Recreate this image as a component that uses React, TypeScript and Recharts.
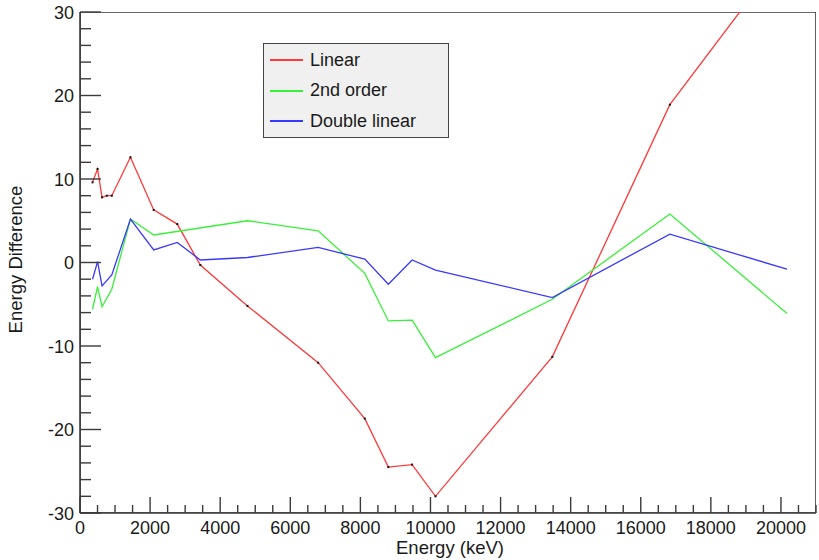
import React from 'react';
import { LineChart, Line, XAxis, YAxis, Legend, ReferenceArea } from 'recharts';

// Energies (keV) and energy differences
const redEnergy = [358, 501, 629, 765, 907, 1439, 2103, 2775, 3433, 4778, 6795, 8126, 8798, 9476, 10143, 13476, 16830, 20172];
const redDiff = [9.6, 11.2, 7.8, 8.0, 8.0, 12.6, 6.3, 4.6, -0.3, -5.2, -12.0, -18.7, -24.5, -24.2, -28.0, -11.3, 18.9, 37.5];

const greenEnergy = [358, 501, 629, 907, 1439, 2103, 4778, 6795, 8126, 8798, 9476, 10143, 13476, 16830, 20172];
const greenDiff = [-5.6, -2.9, -5.3, -3.2, 5.2, 3.3, 5.0, 3.8, -1.3, -7.0, -6.9, -11.4, -4.4, 5.8, -6.1];

const blueEnergy = [358, 501, 629, 907, 1439, 2103, 2775, 3433, 4778, 6795, 8126, 8798, 9476, 10143, 13476, 16830, 20172];
const blueDiff = [-2.0, 0.1, -2.8, -1.5, 5.2, 1.5, 2.4, 0.3, 0.6, 1.8, 0.4, -2.6, 0.3, -0.9, -4.2, 3.4, -0.8];

const seriesNames = ['Linear', '2nd order', 'Double linear'];
const seriesColors = ['#ff3838', '#38f038', '#3838ff'];

const xTicks: number[] = Array.from({ length: 43 }, (_, i) => i * 500);
const xLabelStep = 2000;
const yTicks: number[] = Array.from({ length: 31 }, (_, i) => -30 + i * 2);
const yLabelStep = 10;

const toPoints = (xs: number[], ys: number[]) => xs.map((x, i) => ({ x, y: ys[i] }));
const redData = toPoints(redEnergy, redDiff);
const greenData = toPoints(greenEnergy, greenDiff);
const blueData = toPoints(blueEnergy, blueDiff);

const FONT = '"Liberation Sans", Arial, Helvetica, sans-serif';
const AXIS = '#3a3a3a';

const XTick = (props: any) => {
  const { x, y, payload } = props;
  const v = payload.value as number;
  const major = v % xLabelStep === 0;
  const len = major ? 16 : 8;
  return (
    <g>
      <line x1={x} x2={x} y1={y} y2={y - len} stroke={AXIS} strokeWidth={1.4} />
      {major && v <= 20000 ? (
        <text x={x} y={y + 20.5} textAnchor="middle" fontSize={18} fontFamily={FONT} fill="#1a1a1a">
          {v}
        </text>
      ) : null}
    </g>
  );
};

const YTick = (props: any) => {
  const { x, y, payload } = props;
  const v = payload.value as number;
  const major = v % yLabelStep === 0;
  const len = major ? 21 : 11;
  return (
    <g>
      <line x1={x} x2={x + len} y1={y} y2={y} stroke={AXIS} strokeWidth={1.4} />
      {major ? (
        <text x={x - 6} y={y + 6.5} textAnchor="end" fontSize={18} fontFamily={FONT} fill="#1a1a1a">
          {v}
        </text>
      ) : null}
    </g>
  );
};

const LegendBox = () => (
  <div
    style={{
      width: 186,
      height: 95,
      boxSizing: 'border-box',
      border: '1.5px solid #444',
      background: '#f0f0f0',
      fontFamily: FONT,
      fontSize: 18,
      color: '#1a1a1a',
      paddingTop: 1,
    }}
  >
    {seriesNames.map((name, i) => (
      <div key={name} style={{ display: 'flex', alignItems: 'center', height: 30.5, paddingLeft: 6 }}>
        <div style={{ width: 33, height: 1.6, background: seriesColors[i], marginRight: 7 }} />
        <span>{name}</span>
      </div>
    ))}
  </div>
);

const DotMarker = (props: any) => {
  const { cx, cy } = props;
  if (cx == null || cy == null) return null;
  return <rect x={cx - 1} y={cy - 1} width={2} height={2} fill="#111" />;
};

export default function App() {
  return (
    <div style={{ position: 'absolute', left: 0, top: 0, width: 819, height: 560, background: '#fff' }}>
      <LineChart width={819} height={560} margin={{ top: 12, right: 3, bottom: 17, left: 20 }}>
        <XAxis
          dataKey="x"
          type="number"
          domain={[0, 21000]}
          allowDataOverflow
          ticks={xTicks}
          interval={0}
          tickSize={0}
          tickMargin={0}
          tickLine={false}
          height={30}
          stroke={AXIS}
          axisLine={{ stroke: AXIS, strokeWidth: 1.6 }}
          tick={(p: any) => <XTick {...p} />}
          label={() => (
            <text x={450} y={554} textAnchor="middle" fontSize={18.5} fontFamily={FONT} fill="#1a1a1a">
              Energy (keV)
            </text>
          )}
        />
        <YAxis
          type="number"
          domain={[-30, 30]}
          allowDataOverflow
          ticks={yTicks}
          interval={0}
          tickSize={0}
          tickMargin={0}
          tickLine={false}
          width={60}
          axisLine={{ stroke: AXIS, strokeWidth: 1.6 }}
          tick={(p: any) => <YTick {...p} />}
          label={(p: any) => {
            const vb = p.viewBox || { y: 12, height: 500 };
            const cy = vb.y + vb.height / 2 - 3;
            return (
              <text
                x={15}
                y={cy}
                transform={`rotate(-90, 15, ${cy})`}
                textAnchor="middle"
                dominantBaseline="central"
                fontSize={18.5}
                fontFamily={FONT}
                fill="#1a1a1a"
              >
                Energy Difference
              </text>
            );
          }}
        />
        <ReferenceArea x1={0} x2={21000} y1={-30} y2={30} fill="none" stroke={AXIS} strokeWidth={1.6} ifOverflow="hidden" />
        <Line data={redData} dataKey="y" name={seriesNames[0]} stroke={seriesColors[0]} strokeWidth={1.3} dot={<DotMarker />} isAnimationActive={false} />
        <Line data={greenData} dataKey="y" name={seriesNames[1]} stroke={seriesColors[1]} strokeWidth={1.3} dot={false} isAnimationActive={false} />
        <Line data={blueData} dataKey="y" name={seriesNames[2]} stroke={seriesColors[2]} strokeWidth={1.3} dot={false} isAnimationActive={false} />
        <Legend
          layout="vertical"
          align="center"
          verticalAlign="middle"
          wrapperStyle={{ left: 263, top: 43, width: 186, height: 95 }}
          content={() => <LegendBox />}
        />
      </LineChart>
    </div>
  );
}
